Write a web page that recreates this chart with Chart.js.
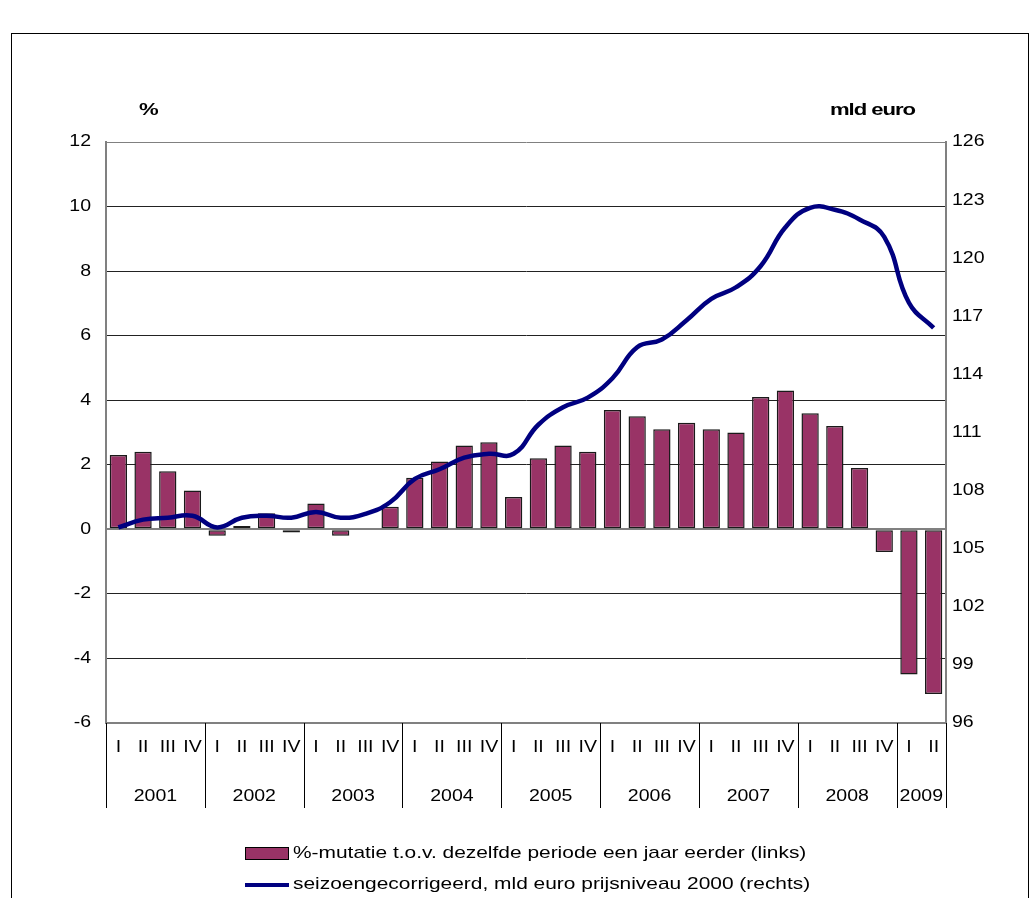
<!DOCTYPE html>
<html>
<head>
<meta charset="utf-8">
<script src="https://cdn.jsdelivr.net/npm/chart.js@4/dist/chart.umd.min.js"></script>
<style>
  body { margin: 0; background: #fff; font-family: "Liberation Sans", Arial, sans-serif; }
  #wrap { position: relative; width: 1032px; height: 898px; overflow: hidden; }
  #frame { position: absolute; left: 11px; top: 33px; width: 1016px; height: 900px; border: 1px solid #000; }
  .unit { position: absolute; top: 100px; font-weight: bold; font-size: 17px; letter-spacing: -0.8px; transform-origin: left top; transform: scaleX(1.3); }
  .leg { position: absolute; left: 245px; font-size: 17px; color: #000; white-space: nowrap; }
  .leg .sw { display: inline-block; vertical-align: middle; margin-right: 4px; }
  .leg .tx { display: inline-block; transform-origin: left center; transform: scaleX(1.23); }
</style>
</head>
<body>
<div id="wrap">
  <div id="frame"></div>
  <canvas id="chart"></canvas>
  <div class="unit" style="left:139px">%</div>
  <div class="unit" style="left:830px">mld euro</div>
  <div class="leg" style="top:843px"><span class="sw" style="width:42px;height:11px;background:#993366;border:1px solid #000"></span><span class="tx">%-mutatie t.o.v. dezelfde periode een jaar eerder (links)</span></div>
  <div class="leg" style="top:874px"><span class="sw" style="width:44px;height:4px;background:#000080"></span><span class="tx">seizoengecorrigeerd, mld euro prijsniveau 2000 (rechts)</span></div>
</div>
<script>
// quarters 2001 I .. 2009 II
const years = ['2001', '2002', '2003', '2004', '2005', '2006', '2007', '2008', '2009'];
const quarters = [
  'I', 'II', 'III', 'IV', 'I', 'II', 'III', 'IV', 'I', 'II', 'III', 'IV',
  'I', 'II', 'III', 'IV', 'I', 'II', 'III', 'IV', 'I', 'II', 'III', 'IV',
  'I', 'II', 'III', 'IV', 'I', 'II', 'III', 'IV', 'I', 'II'
];

// % change vs same period a year earlier (left axis)
const mutatie = [
  2.3, 2.4, 1.8, 1.2,
  -0.2, 0.1, 0.5, -0.1,
  0.8, -0.2, 0, 0.7,
  1.6, 2.1, 2.6, 2.7,
  1.0, 2.2, 2.6, 2.4,
  3.7, 3.5, 3.1, 3.3,
  3.1, 3.0, 4.1, 4.3,
  3.6, 3.2, 1.9, -0.7,
  -4.5, -5.1
];

// seasonally adjusted, bn euro at 2000 prices (right axis)
const niveau = [
  106.1, 106.5, 106.6, 106.7,
  106.1, 106.6, 106.7, 106.6,
  106.9, 106.6, 106.8, 107.4,
  108.6, 109.1, 109.7, 109.9,
  109.9, 111.4, 112.3, 112.8,
  113.8, 115.4, 115.8, 116.8,
  117.9, 118.5, 119.6, 121.6,
  122.6, 122.5, 122.0, 121.1,
  117.7, 116.4
];

const leftTicks = [-6, -4, -2, 0, 2, 4, 6, 8, 10, 12];
const rightTicks = [96, 99, 102, 105, 108, 111, 114, 117, 120, 123, 126];

const FONT = '16px "Liberation Sans", Arial, sans-serif';
const STRETCH = 1.22;

// the original text is a little wider than plain Arial, so labels are drawn stretched
function label(c, text, x, y, align) {
  c.save();
  c.translate(x, y);
  c.scale(STRETCH, 1);
  c.textAlign = align;
  c.fillText(text, 0, 0);
  c.restore();
}

const axisLabels = {
  id: 'axisLabels',
  afterDraw(chart) {
    const c = chart.ctx;
    const { x, y, y1 } = chart.scales;
    const area = chart.chartArea;
    const step = (area.right - area.left) / quarters.length;
    c.save();
    c.fillStyle = '#000';
    c.font = FONT;
    c.textBaseline = 'middle';
    y.ticks.forEach(t => label(c, String(t.value), area.left - 15, y.getPixelForValue(t.value), 'right'));
    y1.ticks.forEach(t => label(c, String(t.value), area.right + 6, y1.getPixelForValue(t.value), 'left'));
    quarters.forEach((q, i) => label(c, q, x.getPixelForValue(i), 748, 'center'));

    // year labels and separators under the quarter labels
    c.strokeStyle = '#000';
    c.lineWidth = 1;
    for (let i = 0; i < years.length; i++) {
      const start = i * 4;
      const end = Math.min(start + 4, quarters.length);
      const x0 = x.getPixelForValue(start) - step / 2;
      const x1 = x.getPixelForValue(end - 1) + step / 2;
      c.beginPath();
      c.moveTo(Math.round(x0) + 0.5, area.bottom);
      c.lineTo(Math.round(x0) + 0.5, 808);
      if (end === quarters.length) {
        c.moveTo(Math.round(x1) + 0.5, area.bottom);
        c.lineTo(Math.round(x1) + 0.5, 808);
      }
      c.stroke();
      label(c, years[i], (x0 + x1) / 2, 797, 'center');
    }
    c.restore();
  }
};

new Chart(document.getElementById('chart'), {
  data: {
    labels: quarters,
    datasets: [
      {
        type: 'line',
        label: 'seizoengecorrigeerd, mld euro prijsniveau 2000 (rechts)',
        data: niveau,
        yAxisID: 'y1',
        borderColor: '#000080',
        borderWidth: 4.5,
        pointRadius: 0,
        tension: 0.45,
        order: 0
      },
      {
        type: 'bar',
        label: '%-mutatie t.o.v. dezelfde periode een jaar eerder (links)',
        data: mutatie,
        yAxisID: 'y',
        backgroundColor: '#993366',
        borderColor: '#1a1a1a',
        borderWidth: 1.5,
        borderSkipped: false,
        categoryPercentage: 1,
        barPercentage: 0.7,
        order: 1
      }
    ]
  },
  options: {
    responsive: true,
    maintainAspectRatio: false,
    animation: false,
    layout: { padding: { top: 142, left: 0, right: 0, bottom: 0 } },
    plugins: {
      legend: { display: false },
      tooltip: { enabled: false }
    },
    scales: {
      x: {
        grid: { display: false, drawTicks: false },
        border: { color: '#808080', width: 2 },
        ticks: { display: false, autoSkip: false },
        afterFit(s) { s.height = 175; s.paddingLeft = 0; s.paddingRight = 0; }
      },
      y: {
        position: 'left',
        min: -6,
        max: 12,
        afterBuildTicks(s) { s.ticks = leftTicks.map(v => ({ value: v })); },
        grid: {
          drawTicks: false,
          color: ctx => (ctx.tick.value === 0 || ctx.tick.value === 12 || ctx.tick.value === -6) ? '#808080' : '#222',
          lineWidth: ctx => (ctx.tick.value === 0 || ctx.tick.value === -6) ? 2 : 1
        },
        border: { color: '#808080', width: 2 },
        ticks: { display: false },
        afterFit(s) { s.width = 106; s.paddingTop = 0; s.paddingBottom = 0; }
      },
      y1: {
        position: 'right',
        min: 96,
        max: 126,
        afterBuildTicks(s) { s.ticks = rightTicks.map(v => ({ value: v })); },
        grid: { display: false, drawTicks: false },
        border: { color: '#808080', width: 2 },
        ticks: { display: false },
        afterFit(s) { s.width = 86; s.paddingTop = 0; s.paddingBottom = 0; }
      }
    }
  },
  plugins: [axisLabels]
});
</script>
</body>
</html>
